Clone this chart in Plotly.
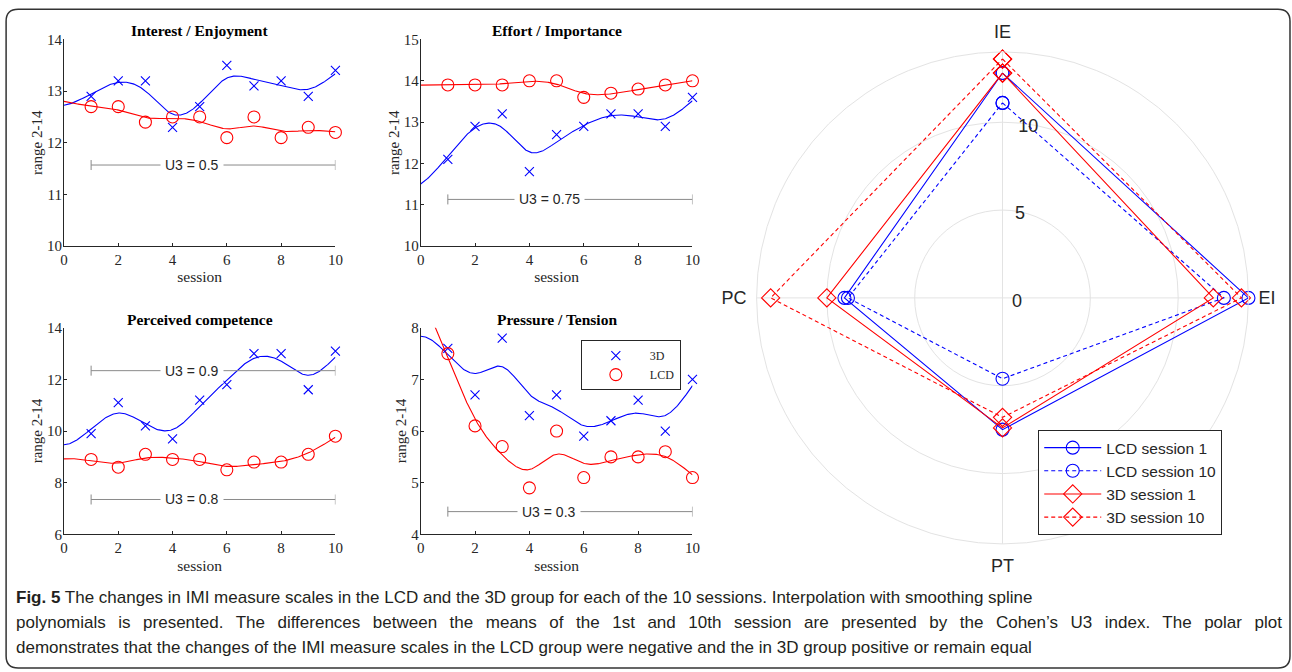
import numpy as np
import plotly.graph_objects as go

# The photograph covers a 1308x688 area (figure + default 8px body margin)
# scaled down to 1292x672; the figure is sized and placed to fill it.
OFF = 8
FW, FH = 1300, 680
KX = 1308 / 1292
KY = 688 / 672

# ---------------- data ----------------
sessions = [1, 2, 3, 4, 5, 6, 7, 8, 9, 10]

ie_3d = [12.9, 13.2, 13.2, 12.3, 12.7, 13.5, 13.1, 13.2, 12.9, 13.4]
ie_lcd = [12.7, 12.7, 12.4, 12.5, 12.5, 12.1, 12.5, 12.1, 12.3, 12.2]
ei_3d = [12.1, 12.9, 13.2, 11.8, 12.7, 12.9, 13.2, 13.2, 12.9, 13.6]
ei_lcd = [13.9, 13.9, 13.9, 14.0, 14.0, 13.6, 13.7, 13.8, 13.9, 14.0]
pc_3d = [9.9, 11.1, 10.2, 9.7, 11.2, 11.8, 13.0, 13.0, 11.6, 13.1]
pc_lcd = [8.9, 8.6, 9.1, 8.9, 8.9, 8.5, 8.8, 8.8, 9.1, 9.8]
pt_3d = [7.6, 6.7, 7.8, 6.3, 6.7, 5.9, 6.2, 6.6, 6.0, 7.0]
pt_lcd = [7.5, 6.1, 5.7, 4.9, 6.0, 5.1, 5.5, 5.5, 5.6, 5.1]

panel_titles = ["Interest / Enjoyment", "Effort / Importance",
                "Perceived competence", "Pressure / Tension"]
y_ranges = [[10, 14], [10, 15], [6, 14], [4, 8]]
y_dticks = [1, 1, 2, 1]
x_ticks = [0, 2, 4, 6, 8, 10]

u3_panel = [1, 2, 3, 3, 4]
u3_level = [11.57, 11.13, 12.34, 7.35, 4.44]
u3_text = ["U3 = 0.5", "U3 = 0.75", "U3 = 0.9", "U3 = 0.8", "U3 = 0.3"]
u3_from = 1
u3_to = 10
u3_label_at = 4.73

polar_axes = ["IE", "EI", "PT", "PC"]
polar_angles = [90, 0, 270, 180]
lcd_s1 = [12.8, 14.0, 7.5, 9.0]
lcd_s10 = [11.1, 12.6, 4.6, 8.8]
d3_s1 = [12.8, 12.0, 7.4, 10.0]
d3_s10 = [13.6, 13.6, 6.8, 13.2]

caption_lines = [
    "<b>Fig. 5</b> The changes in IMI measure scales in the LCD and the 3D group for each of the 10 sessions. Interpolation with smoothing spline",
    "<span style=\"word-spacing:7.8px\">polynomials is presented. The differences between the means of the 1st and 10th session are presented by the Cohen\u2019s U3 index. The polar plot</span>",
    "demonstrates that the changes of the IMI measure scales in the LCD group were negative and the in 3D group positive or remain equal",
]

SMOOTH_P = 0.9


def smoothing_spline(x, y, p, xs):
    x = np.asarray(x, float)
    y = np.asarray(y, float)
    n = len(x)
    h = np.diff(x)
    Q = np.zeros((n, n - 2))
    R = np.zeros((n - 2, n - 2))
    for j in range(n - 2):
        Q[j, j] = 1 / h[j]
        Q[j + 1, j] = -1 / h[j] - 1 / h[j + 1]
        Q[j + 2, j] = 1 / h[j + 1]
        R[j, j] = (h[j] + h[j + 1]) / 3
        if j < n - 3:
            R[j, j + 1] = R[j + 1, j] = h[j + 1] / 6
    alpha = (1 - p) / p
    gamma = np.linalg.solve(R + alpha * Q.T @ Q, Q.T @ y)
    g = y - alpha * Q @ gamma
    gam = np.concatenate([[0.0], gamma, [0.0]])
    xs = np.asarray(xs, float)
    i = np.clip(np.searchsorted(x, xs) - 1, 0, n - 2)
    xl, xr, hi = x[i], x[i + 1], h[i]
    return ((xs - xl) * g[i + 1] + (xr - xs) * g[i]) / hi - (1 / 6) * (xs - xl) * (xr - xs) * (
        (1 + (xs - xl) / hi) * gam[i + 1] + (1 + (xr - xs) / hi) * gam[i])


def X(s):
    return (s * KX - OFF) / FW


def Y(s):
    return 1 - (s * KY - OFF) / FH


SERIF = "Liberation Serif, Times New Roman, serif"
SANS = "Liberation Sans, Arial, sans-serif"
AX = "#262626"
BLUE = "#0000ff"
RED = "#ff0000"

x_dom = [[X(67.7), X(338.3)], [X(423.3), X(694.3)],
         [X(67.7), X(338.3)], [X(423.3), X(694.3)]]
y_top = [Y(246), Y(39.3)]
y_bot = [Y(534.3), Y(327.7)]
y_dom = [y_top, y_top, y_bot, y_bot]
title_y = [Y(30.5), Y(30.5), Y(319), Y(319)]

fig = go.Figure()

data_3d = [ie_3d, ei_3d, pc_3d, pt_3d]
data_lcd = [ie_lcd, ei_lcd, pc_lcd, pt_lcd]
xs = np.linspace(0, 10, 401)

for k in range(4):
    xa = "x" if k == 0 else f"x{k+1}"
    ya = "y" if k == 0 else f"y{k+1}"
    show = (k == 3)
    fig.add_trace(go.Scatter(x=xs, y=smoothing_spline(sessions, data_3d[k], SMOOTH_P, xs),
                             mode="lines", line=dict(color=BLUE, width=1.1),
                             xaxis=xa, yaxis=ya, showlegend=False, hoverinfo="skip"))
    fig.add_trace(go.Scatter(x=xs, y=smoothing_spline(sessions, data_lcd[k], SMOOTH_P, xs),
                             mode="lines", line=dict(color=RED, width=1.1),
                             xaxis=xa, yaxis=ya, showlegend=False, hoverinfo="skip"))
    fig.add_trace(go.Scatter(x=sessions, y=data_3d[k], mode="markers", name="3D",
                             marker=dict(symbol="x-thin", size=9, line=dict(width=1.1, color=BLUE), color=BLUE),
                             xaxis=xa, yaxis=ya, showlegend=show, legend="legend", cliponaxis=False))
    fig.add_trace(go.Scatter(x=sessions, y=data_lcd[k], mode="markers", name="LCD",
                             marker=dict(symbol="circle-open", size=12, line=dict(width=1.1, color=RED), color=RED),
                             xaxis=xa, yaxis=ya, showlegend=show, legend="legend", cliponaxis=False))


def closed(v):
    return list(v) + [v[0]]


polar_series = [
    ("LCD session 1", lcd_s1, BLUE, "solid", "circle-open", 13),
    ("LCD session 10", lcd_s10, BLUE, "4px,3px", "circle-open", 13),
    ("3D session 1", d3_s1, RED, "solid", "diamond-open", 14),
    ("3D session 10", d3_s10, RED, "4px,3px", "diamond-open", 14),
]
for name, vals, col, dash, sym, sz in polar_series:
    fig.add_trace(go.Scatterpolar(r=closed(vals), theta=closed(polar_angles), thetaunit="degrees",
                                  mode="lines+markers", name=name,
                                  line=dict(color=col, width=1.1, dash=dash),
                                  marker=dict(symbol=sym, size=sz, color=col, line=dict(width=1.1, color=col)),
                                  legend="legend2"))

layout = dict(
    width=FW, height=FH, margin=dict(l=0, r=0, t=0, b=0),
    paper_bgcolor="white", plot_bgcolor="rgba(0,0,0,0)",
    showlegend=True,
)

for k in range(4):
    sx = "" if k == 0 else str(k + 1)
    layout[f"xaxis{sx}"] = dict(
        domain=x_dom[k], anchor=f"y{sx}", range=[0, 10], tickvals=x_ticks,
        showline=True, linecolor=AX, linewidth=1, ticks="inside", ticklen=3, tickcolor=AX,
        showgrid=False, zeroline=False, tickfont=dict(family=SERIF, size=15, color=AX),
        title=dict(text="session", font=dict(family=SERIF, size=15.5, color=AX), standoff=4),
    )
    layout[f"yaxis{sx}"] = dict(
        domain=y_dom[k], anchor=f"x{sx}", range=y_ranges[k], dtick=y_dticks[k], tick0=0,
        showline=True, linecolor=AX, linewidth=1, ticks="inside", ticklen=3, tickcolor=AX,
        showgrid=False, zeroline=False, tickfont=dict(family=SERIF, size=15, color=AX),
        ticklabelstandoff=-2,
        title=dict(text="range 2-14", font=dict(family=SERIF, size=15, color=AX), standoff=0),
    )

layout["polar"] = dict(
    domain=dict(x=[X(757.4), X(1249.4)], y=[Y(543.8), Y(51.8)]),
    bgcolor="rgba(0,0,0,0)",
    radialaxis=dict(range=[0, 14], tickvals=[0, 5, 10], angle=88, tickangle=88, showline=False,
                    ticks="", gridcolor="#e3e3e3", gridwidth=1,
                    tickfont=dict(family=SANS, size=18, color=AX)),
    angularaxis=dict(tickmode="array", tickvals=polar_angles, ticktext=polar_axes,
                     direction="counterclockwise", rotation=0, showline=True, linecolor="#e3e3e3",
                     gridcolor="#e3e3e3", ticks="outside", ticklen=6, tickcolor="rgba(0,0,0,0)",
                     tickfont=dict(family=SANS, size=18, color=AX)),
)

layout["legend"] = dict(x=X(583), y=Y(340), xanchor="left", yanchor="top",
                        bgcolor="white", bordercolor=AX, borderwidth=1,
                        font=dict(family=SERIF, size=12, color=AX), itemwidth=58,
                        tracegroupgap=0)
layout["legend2"] = dict(x=X(1039), y=Y(430), xanchor="left", yanchor="top",
                         bgcolor="white", bordercolor=AX, borderwidth=1,
                         font=dict(family=SANS, size=15.5, color=AX), itemwidth=57,
                         tracegroupgap=0)

annotations = []
for k in range(4):
    annotations.append(dict(text=f"<b>{panel_titles[k]}</b>", xref="paper", yref="paper",
                            x=(x_dom[k][0] + x_dom[k][1]) / 2, y=title_y[k],
                            xanchor="center", yanchor="middle", showarrow=False,
                            font=dict(family=SERIF, size=15.5, color="black")))

shapes = []
for pnl, lev, txt in zip(u3_panel, u3_level, u3_text):
    sx = "" if pnl == 1 else str(pnl)
    shapes.append(dict(type="line", xref=f"x{sx}", yref=f"y{sx}", x0=u3_from, x1=u3_to,
                       y0=lev, y1=lev, line=dict(color="#8a8a8a", width=1)))
    for xe in (u3_from, u3_to):
        shapes.append(dict(type="line", xref=f"x{sx}", yref=f"y{sx}", x0=xe, x1=xe,
                           ysizemode="pixel", yanchor=lev, y0=-5, y1=5,
                           line=dict(color="#8a8a8a", width=1)))
    annotations.append(dict(text=txt, xref=f"x{sx}", yref=f"y{sx}", x=u3_label_at, y=lev,
                            xanchor="center", yanchor="middle", showarrow=False,
                            bgcolor="white", borderpad=4,
                            font=dict(family=SANS, size=14, color=AX)))

cap_y = [597, 622, 647]
for line_txt, cy in zip(caption_lines, cap_y):
    annotations.append(dict(text=line_txt, xref="paper", yref="paper", x=X(18), y=Y(cy),
                            xanchor="left", yanchor="middle", showarrow=False, align="left",
                            font=dict(family=SANS, size=17, color="#231f20")))

# outer rounded frame (screen px)
Lb, Rb, Tb, Bb, rr = 10, 1290, 9, 668, 12
path = (f"M {X(Lb+rr)},{Y(Tb)} L {X(Rb-rr)},{Y(Tb)} Q {X(Rb)},{Y(Tb)} {X(Rb)},{Y(Tb+rr)} "
        f"L {X(Rb)},{Y(Bb-rr)} Q {X(Rb)},{Y(Bb)} {X(Rb-rr)},{Y(Bb)} "
        f"L {X(Lb+rr)},{Y(Bb)} Q {X(Lb)},{Y(Bb)} {X(Lb)},{Y(Bb-rr)} "
        f"L {X(Lb)},{Y(Tb+rr)} Q {X(Lb)},{Y(Tb)} {X(Lb+rr)},{Y(Tb)} Z")
shapes.append(dict(type="path", xref="paper", yref="paper", path=path,
                   line=dict(color="#333333", width=1.5)))

layout["annotations"] = annotations
layout["shapes"] = shapes
fig.update_layout(**layout)

fig.write_html("out.html")
